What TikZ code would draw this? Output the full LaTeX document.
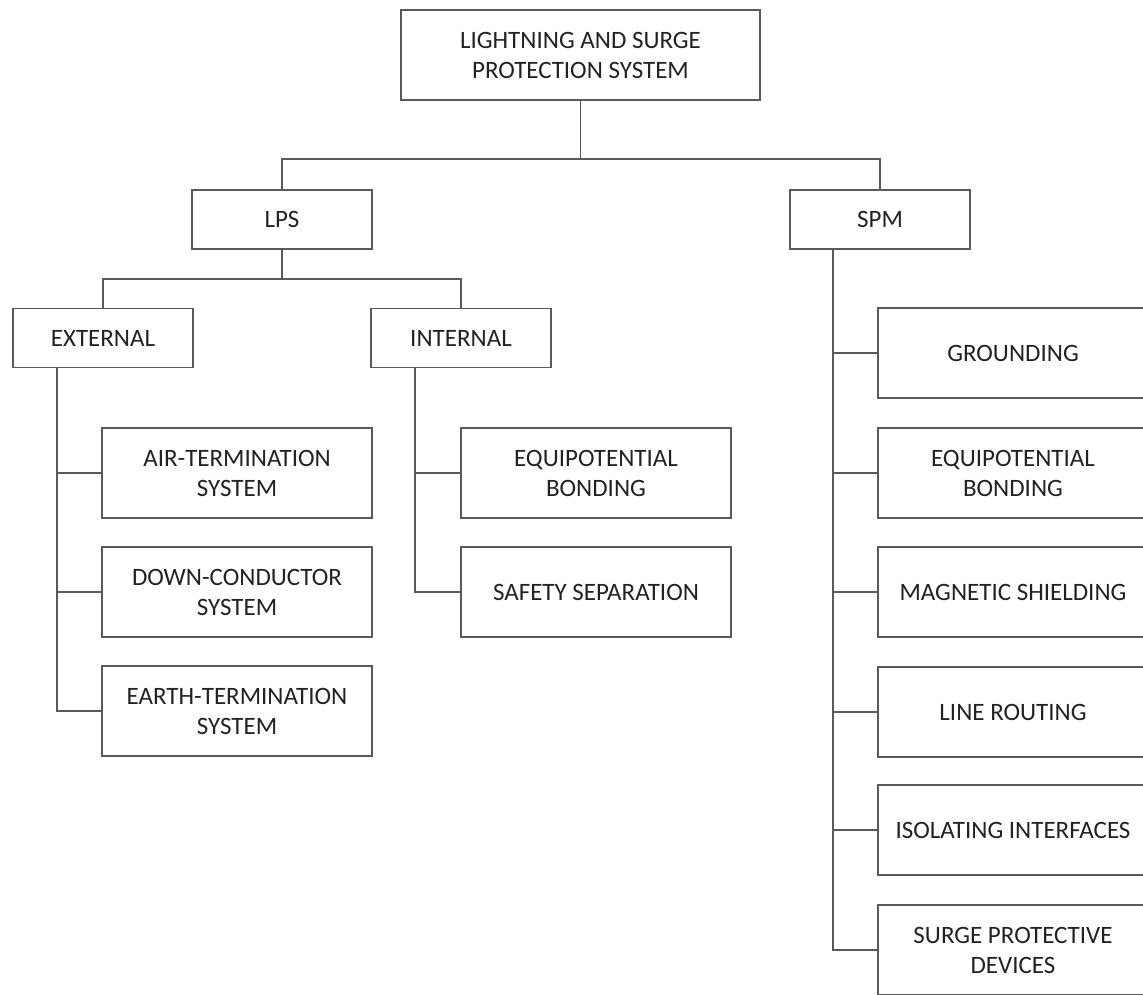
\documentclass[tikz,border=0pt]{standalone}
\usepackage{fontspec}
\setmainfont{Carlito}
\usetikzlibrary{calc}
\definecolor{edge}{HTML}{5A5A5A}
\definecolor{ink}{HTML}{222222}
\begin{document}
\begin{tikzpicture}[x=1pt,y=-1pt,
  box/.style={draw=edge, line width=1.6pt, fill=white, rectangle, inner sep=0pt,
              align=center, text=ink, font=\fontsize{25}{30}\selectfont},
  head/.style={box, minimum width=359pt, minimum height=90pt},
  mid/.style={box, minimum width=180pt, minimum height=59pt},
  leaf/.style={box, minimum width=270pt, minimum height=90pt},
  link/.style={draw=edge, line width=1.6pt}]
\clip (0,0) rectangle (1143,994);
\fill[white] (0,0) rectangle (1143,994);

% root
\node[head] (root) at (580.5,55) {LIGHTNING AND SURGE\\PROTECTION SYSTEM};

% second level
\node[mid] (lps) at (282,219.5) {LPS};
\node[mid] (spm) at (880,219.5) {SPM};

% LPS branches
\node[mid] (ext) at (103,338) {EXTERNAL};
\node[mid] (int) at (461,338) {INTERNAL};

% external LPS parts
\node[leaf] (air)   at (237,473) {AIR-TERMINATION\\SYSTEM};
\node[leaf] (down)  at (237,592) {DOWN-CONDUCTOR\\SYSTEM};
\node[leaf] (earth) at (237,711) {EARTH-TERMINATION\\SYSTEM};

% internal LPS parts
\node[leaf] (ibond) at (596,473) {EQUIPOTENTIAL\\BONDING};
\node[leaf] (sep)   at (596,592) {SAFETY SEPARATION};

% SPM measures
\node[leaf] (ground) at (1013,353) {GROUNDING};
\node[leaf] (sbond)  at (1013,473) {EQUIPOTENTIAL\\BONDING};
\node[leaf] (shield) at (1013,592) {MAGNETIC SHIELDING};
\node[leaf] (route)  at (1013,712) {LINE ROUTING};
\node[leaf] (iso)    at (1013,830) {ISOLATING INTERFACES};
\node[leaf] (spd)    at (1013,950) {SURGE PROTECTIVE\\DEVICES};

% root to LPS / SPM
\draw[link] (root.south) -- ++(0,58) coordinate (hub);
\draw[link] (hub) -| (lps.north);
\draw[link] (hub) -| (spm.north);

% LPS to external / internal
\draw[link] (lps.south) -- ++(0,29) coordinate (lhub);
\draw[link] (lhub) -| (ext.north);
\draw[link] (lhub) -| (int.north);

% external rail
\coordinate (erail) at ($(ext.south west)+(45,0)$);
\draw[link] (erail) |- (earth.west);
\draw[link] (erail |- air.west) -- (air.west);
\draw[link] (erail |- down.west) -- (down.west);

% internal rail
\coordinate (irail) at ($(int.south west)+(45,0)$);
\draw[link] (irail) |- (sep.west);
\draw[link] (irail |- ibond.west) -- (ibond.west);

% SPM rail
\coordinate (srail) at ($(spm.south west)+(44,0)$);
\draw[link] (srail) |- (spd.west);
\foreach \n in {ground,sbond,shield,route,iso}
  \draw[link] (srail |- \n.west) -- (\n.west);
\end{tikzpicture}
\end{document}
